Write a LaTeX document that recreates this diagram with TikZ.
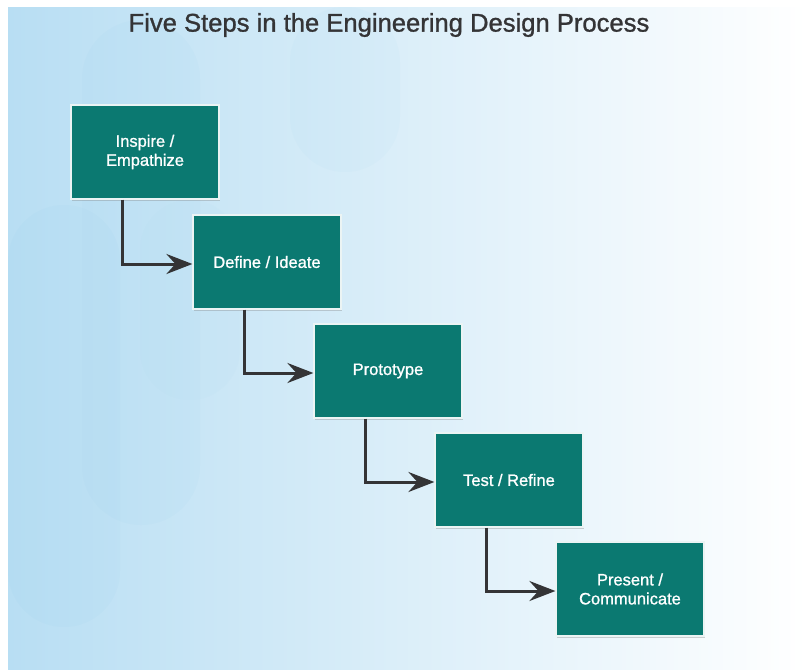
\documentclass[tikz,border=0pt]{standalone}
\usepackage{fontspec}
\setmainfont{Liberation Sans}
\newfontfamily\mediumsans[FakeBold=1.1]{Liberation Sans}
\usetikzlibrary{arrows.meta,shadows}

\definecolor{stepteal}{RGB}{11,121,113}
\definecolor{arrowgray}{RGB}{52,52,54}
\definecolor{skyleft}{RGB}{184,222,243}
\definecolor{skymid}{RGB}{214,236,248}
\definecolor{pillblue}{RGB}{150,205,238}

\begin{document}
\begin{tikzpicture}
[x=1pt,y=1pt,
  stepbox/.style={shape=rectangle,fill=stepteal,draw=white!92!stepteal,line width=1.2pt,
    minimum width=148pt,minimum height=94pt,text=white,align=center,
    font=\mediumsans\fontsize{16.5}{19}\selectfont,
    drop shadow={shadow xshift=1.2pt,shadow yshift=-1.8pt,opacity=0.35}},%
  flowline/.style={-{Stealth[length=26pt,width=20pt,inset=9pt]},line width=3pt,arrowgray}]
\useasboundingbox (0,0) rectangle (807,-670);
%% backdrop
\shade[left color=skyleft,middle color=skymid,right color=white] (8,-7) rectangle (807,-670);
\fill[pillblue,opacity=0.09,rounded corners=56pt] (8,-205) rectangle (120,-627);
\fill[pillblue,opacity=0.08,rounded corners=59pt] (82,-20) rectangle (200,-525);
\fill[pillblue,opacity=0.06,rounded corners=55pt] (290,-7) rectangle (400,-172);
\fill[pillblue,opacity=0.04,rounded corners=50pt] (140,-200) rectangle (240,-400);
%% title
\node (title) at (389,-25) [text=arrowgray,font=\mediumsans\fontsize{25.6}{28}\selectfont] {Five Steps in the Engineering Design Process};
%% steps
\foreach \nodename/\x/\y/\steptext in {inspire/145/-152/{Inspire /\\Empathize},
  define/267/-262/{Define / Ideate}, prototype/388/-371/{Prototype},
  test/509/-480/{Test / Refine}, present/630/-589/{Present /\\Communicate}} {
  \node (\nodename) at (\x,\y) [stepbox] {\steptext};
}
%% connectors
\foreach \startnode/\endnode in {inspire/define, define/prototype,
  prototype/test, test/present} {
  \draw[flowline] ([xshift=-23pt]\startnode.south) |- ([yshift=-2pt]\endnode.west);
}
\end{tikzpicture}
\end{document}
